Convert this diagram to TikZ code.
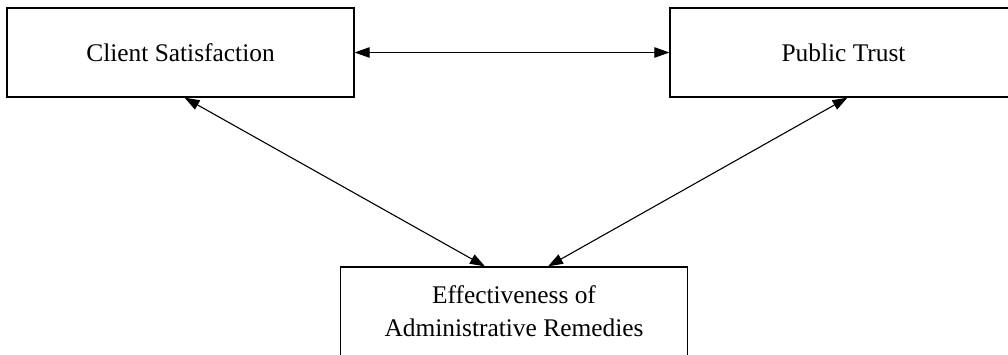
\documentclass[tikz,border=0pt]{standalone}
\usepackage{fontspec}
\setmainfont{Liberation Serif}
\usetikzlibrary{arrows.meta}

\begin{document}
\begin{tikzpicture}[x=0.5pt, y=-0.5pt,
    box/.style={draw, line width=0.6pt, minimum width=173.5pt, minimum height=44.5pt,
        align=center, font=\fontsize{12.7pt}{16.5pt}\selectfont},
    link/.style={line width=0.55pt, {Triangle[length=7.5pt, width=5.2pt]}-{Triangle[length=7.5pt, width=5.2pt]}}]
    \clip (0, 0) rectangle (1008, 354);
    % Boxes
    \node[box] (Client) at (180.5, 52.5) {Client Satisfaction};
    \node[box] (Trust) at (843.5, 52.5) {Public Trust};
    \node[box] (Remedies) at (514, 311.5) {Effectiveness of\\Administrative Remedies};
    % Links
    \draw[link] (Client.east) -- (Trust.west);
    \draw[link] ([xshift=2pt]Client.south) -- ([xshift=-14.5pt]Remedies.north);
    \draw[link] ([xshift=2pt]Trust.south) -- ([xshift=17pt]Remedies.north);
\end{tikzpicture}
\end{document}
